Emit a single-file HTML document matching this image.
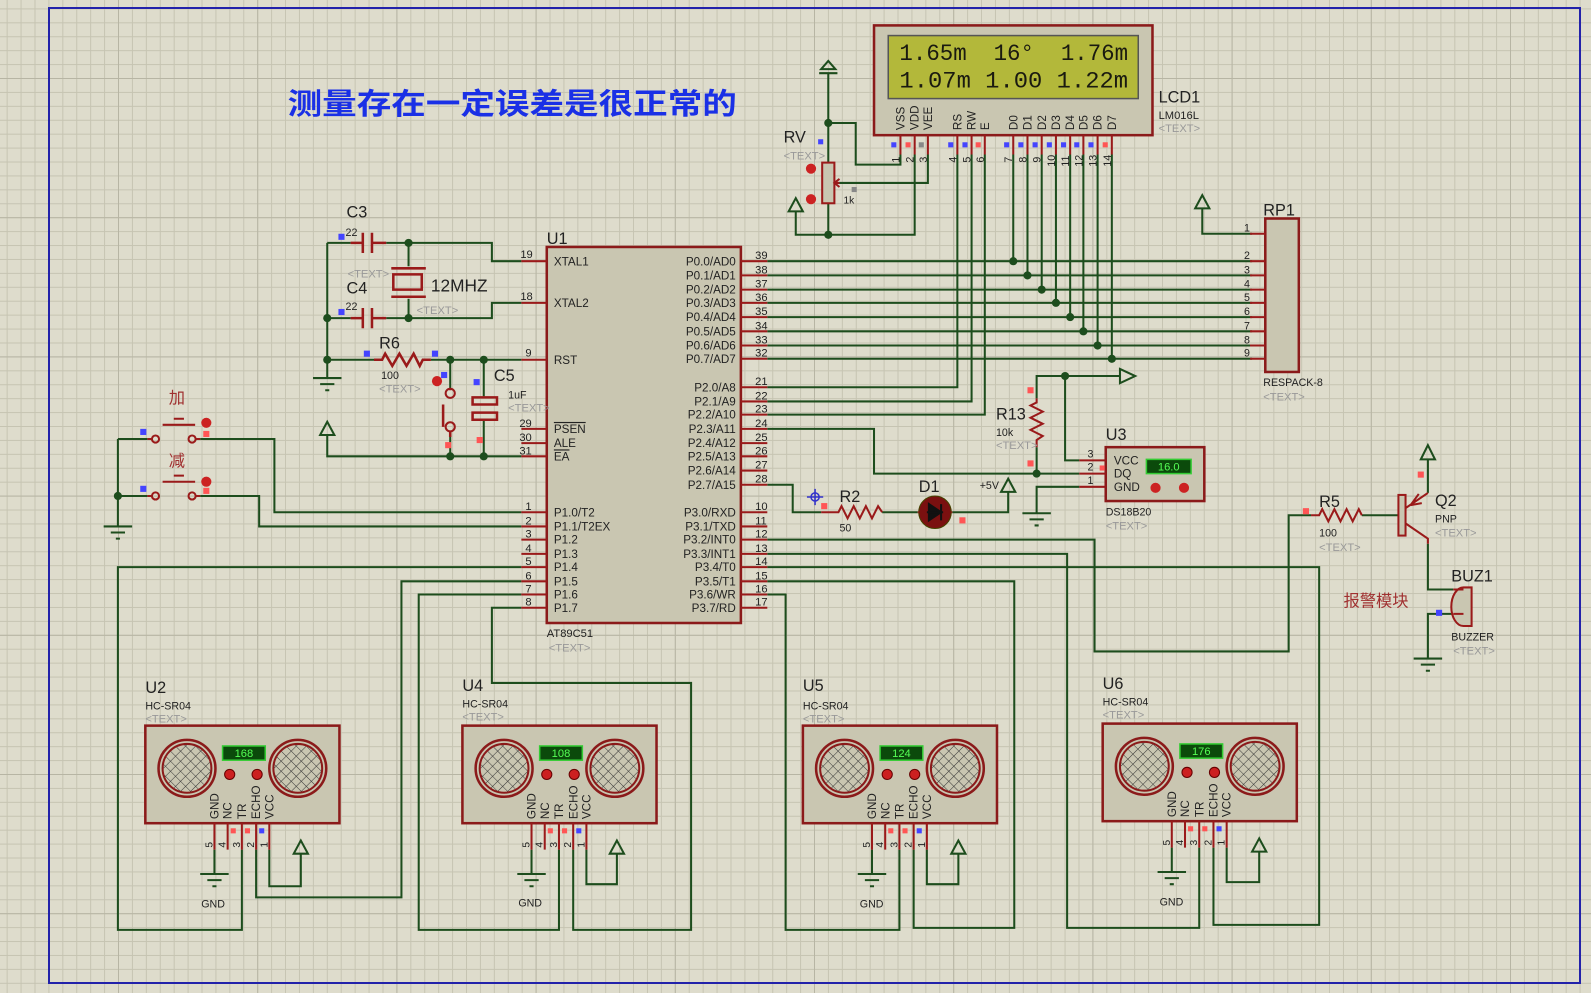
<!DOCTYPE html>
<html><head><meta charset="utf-8"><style>
html,body{margin:0;padding:0;background:#dedccc;}
svg{display:block;}
text{font-family:"Liberation Sans","Noto Sans CJK SC",sans-serif;}
text.mono{font-family:"Liberation Mono","DejaVu Sans Mono",monospace;}
</style></head><body>
<svg width="1591" height="993" viewBox="0 0 1591 993" xmlns="http://www.w3.org/2000/svg">
<defs>
<pattern id="gmin" patternUnits="userSpaceOnUse" x="6.64" y="8.4" width="13.92" height="13.92">
<path d="M0 0H13.92M0 0V13.92" stroke="#c6c4b2" stroke-width="2" fill="none"/></pattern>
<pattern id="gmaj" patternUnits="userSpaceOnUse" x="118" y="78" width="139.2" height="139.2">
<path d="M0 0H139.2M0 0V139.2" stroke="#b7b5a4" stroke-width="2" fill="none"/></pattern>
<pattern id="hatch" patternUnits="userSpaceOnUse" width="7" height="7" patternTransform="rotate(45)">
<path d="M0 0H7M0 0V7" stroke="#333" stroke-width="1"/></pattern>
<g id="sensor">
<rect x="0" y="0" width="191" height="96" fill="#c9c6b1" stroke="#8b1a1a" stroke-width="2.5"/>
<circle cx="41" cy="42" r="28" fill="#c9c6b1" stroke="#8b1a1a" stroke-width="2.5"/>
<circle cx="41" cy="42" r="24" fill="url(#hatch)" stroke="#8b1a1a" stroke-width="2"/>
<circle cx="150" cy="42" r="28" fill="#c9c6b1" stroke="#8b1a1a" stroke-width="2.5"/>
<circle cx="150" cy="42" r="24" fill="url(#hatch)" stroke="#8b1a1a" stroke-width="2"/>
<rect x="76" y="20" width="42" height="14" fill="#0b4a0b" stroke="#33cc33" stroke-width="1.5"/>
<circle cx="83" cy="48" r="5" fill="#cc2020" stroke="#600" stroke-width="1"/>
<circle cx="110" cy="48" r="5" fill="#cc2020" stroke="#600" stroke-width="1"/>
<g font-size="11.5" fill="#222">
<text transform="translate(72,92) rotate(-90)">GND</text>
<text transform="translate(85,92) rotate(-90)">NC</text>
<text transform="translate(99,92) rotate(-90)">TR</text>
<text transform="translate(113,92) rotate(-90)">ECHO</text>
<text transform="translate(126,92) rotate(-90)">VCC</text>
</g>
<g stroke="#9a1a1a" stroke-width="2">
<path d="M68 96V122M81 96V122M95 96V122M109 96V122M122 96V122"/></g>
<g font-size="10" fill="#222">
<text transform="translate(66,120) rotate(-90)">5</text>
<text transform="translate(79,120) rotate(-90)">4</text>
<text transform="translate(93,120) rotate(-90)">3</text>
<text transform="translate(107,120) rotate(-90)">2</text>
<text transform="translate(120,120) rotate(-90)">1</text>
</g>
<rect x="84" y="101" width="5" height="5" fill="#f55"/>
<rect x="98" y="101" width="5" height="5" fill="#f55"/>
<rect x="112" y="101" width="5" height="5" fill="#44f"/>
</g>
</defs>
<rect width="1591" height="993" fill="#dedccc"/>
<rect width="1591" height="993" fill="url(#gmin)"/>
<rect width="1591" height="993" fill="url(#gmaj)"/>
<rect x="49" y="8" width="1531" height="975" fill="none" stroke="#2222aa" stroke-width="2"/>

<g transform="scale(1.0163)">
<text x="283" y="112" font-size="29" font-weight="bold" fill="#1a30e6" textLength="442" lengthAdjust="spacingAndGlyphs">测量存在一定误差是很正常的</text>

<!-- LCD -->
<rect x="860" y="25" width="274" height="108" fill="#c9c6b1" stroke="#8b1a1a" stroke-width="2.5"/>
<rect x="874" y="35" width="246" height="62" fill="#b3b83a" stroke="#555" stroke-width="1.5"/>
<g font-size="23" fill="#1a1a10">
<text class="mono" x="885" y="59" textLength="225" lengthAdjust="spacingAndGlyphs" xml:space="preserve">1.65m  16°  1.76m</text>
<text class="mono" x="885" y="86" textLength="225" lengthAdjust="spacingAndGlyphs" xml:space="preserve">1.07m 1.00 1.22m</text>
</g>
<text x="1140" y="101" font-size="16" fill="#222">LCD1</text>
<text x="1140" y="117" font-size="11" fill="#222">LM016L</text>
<text x="1140" y="130" font-size="11" fill="#999">&lt;TEXT&gt;</text>
<g font-size="11.5" fill="#222">
<text transform="translate(890,128) rotate(-90)">VSS</text>
<text transform="translate(904,128) rotate(-90)">VDD</text>
<text transform="translate(917,128) rotate(-90)">VEE</text>
<text transform="translate(946,128) rotate(-90)">RS</text>
<text transform="translate(960,128) rotate(-90)">RW</text>
<text transform="translate(973,128) rotate(-90)">E</text>
<text transform="translate(1001,128) rotate(-90)">D0</text>
<text transform="translate(1015,128) rotate(-90)">D1</text>
<text transform="translate(1029,128) rotate(-90)">D2</text>
<text transform="translate(1043,128) rotate(-90)">D3</text>
<text transform="translate(1057,128) rotate(-90)">D4</text>
<text transform="translate(1070,128) rotate(-90)">D5</text>
<text transform="translate(1084,128) rotate(-90)">D6</text>
<text transform="translate(1098,128) rotate(-90)">D7</text>
</g>
<g stroke="#9a1a1a" stroke-width="2">
<path d="M886 133V152M900 133V152M913 133V152M942 133V152M956 133V152M969 133V152M997 133V152M1011 133V152M1025 133V152M1039 133V152M1053 133V152M1066 133V152M1080 133V152M1094 133V152"/>
</g>
<g font-size="10.5" fill="#222">
<text transform="translate(885,160) rotate(-90)">1</text>
<text transform="translate(899,160) rotate(-90)">2</text>
<text transform="translate(912,160) rotate(-90)">3</text>
<text transform="translate(941,160) rotate(-90)">4</text>
<text transform="translate(955,160) rotate(-90)">5</text>
<text transform="translate(968,160) rotate(-90)">6</text>
<text transform="translate(996,160) rotate(-90)">7</text>
<text transform="translate(1010,160) rotate(-90)">8</text>
<text transform="translate(1024,160) rotate(-90)">9</text>
<text transform="translate(1038,164) rotate(-90)">10</text>
<text transform="translate(1052,164) rotate(-90)">11</text>
<text transform="translate(1065,164) rotate(-90)">12</text>
<text transform="translate(1079,164) rotate(-90)">13</text>
<text transform="translate(1093,164) rotate(-90)">14</text>
</g>
<g>
<rect x="877" y="140" width="5" height="5" fill="#44f"/><rect x="891" y="140" width="5" height="5" fill="#f55"/><rect x="904" y="140" width="5" height="5" fill="#888"/>
<rect x="933" y="140" width="5" height="5" fill="#44f"/><rect x="947" y="140" width="5" height="5" fill="#44f"/><rect x="960" y="140" width="5" height="5" fill="#f55"/>
<rect x="988" y="140" width="5" height="5" fill="#44f"/><rect x="1002" y="140" width="5" height="5" fill="#44f"/><rect x="1016" y="140" width="5" height="5" fill="#44f"/>
<rect x="1030" y="140" width="5" height="5" fill="#44f"/><rect x="1044" y="140" width="5" height="5" fill="#44f"/><rect x="1057" y="140" width="5" height="5" fill="#44f"/>
<rect x="1071" y="140" width="5" height="5" fill="#44f"/><rect x="1085" y="140" width="5" height="5" fill="#f55"/>
</g>

<!-- wires -->
<g fill="none" stroke="#1d4d1d" stroke-width="2">
<polyline points="886,152 886,162 842,162 842,121 815,121"/>
<polyline points="815,72 815,160"/>
<polyline points="815,200 815,231 900,231 900,152"/>
<polyline points="783,208 783,231 815,231"/>
<polyline points="913,152 913,180 826,180"/>
<polyline points="942,152 942,381 755,381"/>
<polyline points="956,152 956,395 755,395"/>
<polyline points="969,152 969,408 755,408"/>
<path d="M997 152V257M1011 152V271M1025 152V285M1039 152V298M1053 152V312M1066 152V326M1080 152V340M1094 152V353"/>
<path d="M755 257H1232M755 271H1232M755 285H1232M755 298H1232M755 312H1232M755 326H1232M755 340H1232M755 353H1232"/>
<polyline points="1183,205 1183,230 1232,230"/>
<polyline points="322,239 345,239"/><polyline points="380,239 484,239 484,257 513,257"/>
<polyline points="402,239 402,262"/><polyline points="402,294 402,313"/>
<polyline points="322,313 345,313"/><polyline points="380,313 484,313 484,298 513,298"/>
<polyline points="322,239 322,372"/>
<polyline points="322,354 368,354"/><polyline points="424,354 513,354"/>
<polyline points="443,354 443,382"/><polyline points="443,424 443,449"/>
<polyline points="476,354 476,390"/><polyline points="476,413 476,449"/>
<polyline points="322,428 322,449 513,449"/>
<polyline points="116,432 145,432"/><polyline points="197,432 270,432 270,504 513,504"/>
<polyline points="116,488 145,488"/><polyline points="197,488 255,488 255,518 513,518"/>
<polyline points="116,432 116,518"/>
<polyline points="513,558 116,558 116,915 238,915 238,836"/>
<polyline points="211,836 211,860"/>
<polyline points="265,836 265,872 296,872 296,840"/>
<polyline points="252,836 252,883 395,883 395,572 513,572"/>
<polyline points="550,836 550,915 412,915 412,585 513,585"/>
<polyline points="564,836 564,915 680,915 680,672 484,672 484,598 513,598"/>
<polyline points="523,836 523,860"/>
<polyline points="577,836 577,870 607,870 607,840"/>
<polyline points="858,836 858,860"/>
<polyline points="912,836 912,870 943,870 943,840"/>
<polyline points="899,836 899,913 998,913 998,572 755,572"/>
<polyline points="885,836 885,915 773,915 773,585 755,585"/>
<polyline points="1153,834 1153,858"/>
<polyline points="1207,834 1207,868 1239,868 1239,838"/>
<polyline points="1194,834 1194,910 1298,910 1298,558 755,558"/>
<polyline points="1180,834 1180,913 1050,913 1050,545 755,545"/>
<polyline points="755,531 1077,531 1077,641 1268,641 1268,507 1290,507"/>
<polyline points="755,477 780,477 780,504 808,504"/>
<polyline points="868,504 903,504"/>
<polyline points="937,504 992,504 992,484"/>
<polyline points="755,422 860,422 860,466 1062,466"/>
<polyline points="1062,453 1048,453 1048,370 1102,370"/>
<polyline points="1048,370 1020,370 1020,392"/>
<polyline points="1020,440 1020,466"/>
<polyline points="1062,479 1020,479 1020,505"/>
<polyline points="1340,507 1376,507"/>
<polyline points="1405,452 1405,485"/>
<polyline points="1405,535 1405,580 1430,580"/>
<polyline points="1430,604 1405,604 1405,648"/>
<polygon points="815,60 808,68 822,68" />
<polygon points="783,195 776,208 790,208"/>
<polygon points="1183,192 1176,205 1190,205"/>
<polygon points="322,415 315,428 329,428"/>
<polygon points="296,827 289,840 303,840"/>
<polygon points="607,827 600,840 614,840"/>
<polygon points="943,827 936,840 950,840"/>
<polygon points="1239,825 1232,838 1246,838"/>
<polygon points="992,471 985,484 999,484"/>
<polygon points="1405,438 1398,452 1412,452"/>
<polygon points="1102,363 1117,370 1102,377"/>
<path d="M806 72H824"/>
<path d="M308 372H336M315 378H329M320 384H324"/>
<path d="M102 518H130M109 524H123M114 530H118"/>
<path d="M197 860H225M204 866H218M209 872H213"/>
<path d="M509 860H537M516 866H530M521 872H525"/>
<path d="M844 860H872M851 866H865M856 872H860"/>
<path d="M1139 858H1167M1146 864H1160M1151 870H1155"/>
<path d="M1006 505H1034M1013 511H1027M1018 517H1022"/>
<path d="M1391 648H1419M1398 654H1412M1403 660H1407"/>
</g>
<g fill="#1d4d1d">
<circle cx="815" cy="121" r="4"/><circle cx="815" cy="231" r="4"/>
<circle cx="997" cy="257" r="4"/><circle cx="1011" cy="271" r="4"/><circle cx="1025" cy="285" r="4"/><circle cx="1039" cy="298" r="4"/>
<circle cx="1053" cy="312" r="4"/><circle cx="1066" cy="326" r="4"/><circle cx="1080" cy="340" r="4"/><circle cx="1094" cy="353" r="4"/>
<circle cx="402" cy="239" r="4"/><circle cx="402" cy="313" r="4"/><circle cx="322" cy="313" r="4"/><circle cx="322" cy="354" r="4"/>
<circle cx="443" cy="354" r="4"/><circle cx="476" cy="354" r="4"/><circle cx="443" cy="449" r="4"/><circle cx="476" cy="449" r="4"/>
<circle cx="116" cy="488" r="4"/><circle cx="1048" cy="370" r="4"/><circle cx="1020" cy="466" r="4"/>
</g>

<rect x="809" y="160" width="12" height="40" fill="#c9c6b1" stroke="#9a1a1a" stroke-width="2"/>
<path d="M826 180H822M826 176L821 180L826 184" stroke="#9a1a1a" stroke-width="2" fill="none"/>
<circle cx="798" cy="166" r="5" fill="#c22"/><circle cx="798" cy="196" r="5" fill="#c22"/>
<rect x="805" y="137" width="5" height="5" fill="#44f"/><rect x="838" y="184" width="5" height="5" fill="#888"/>
<text x="771" y="140" font-size="16" fill="#222">RV</text>
<text x="771" y="157" font-size="11" fill="#999">&lt;TEXT&gt;</text>
<text x="830" y="200" font-size="10" fill="#222">1k</text>

<rect x="538" y="243" width="191" height="370" fill="#c9c6b1" stroke="#8b1a1a" stroke-width="2.5"/>
<g stroke="#9a1a1a" stroke-width="2">
<path d="M513 257H538M513 298H538M513 354H538M513 422H538M513 436H538M513 449H538"/>
<path d="M513 504H538M513 518H538M513 531H538M513 545H538M513 558H538M513 572H538M513 585H538M513 598H538"/>
<path d="M729 257H755M729 271H755M729 285H755M729 298H755M729 312H755M729 326H755M729 340H755M729 353H755"/>
<path d="M729 381H755M729 395H755M729 408H755M729 422H755M729 436H755M729 449H755M729 463H755M729 477H755"/>
<path d="M729 504H755M729 518H755M729 531H755M729 545H755M729 558H755M729 572H755M729 585H755M729 598H755"/>
</g>
<text x="538" y="240" font-size="16" fill="#222">U1</text>
<text x="538" y="627" font-size="11" fill="#222">AT89C51</text>
<text x="540" y="641" font-size="11" fill="#999">&lt;TEXT&gt;</text>
<g font-size="11.5" fill="#222">
<text x="545" y="261">XTAL1</text><text x="545" y="302">XTAL2</text><text x="545" y="358">RST</text>
<text x="545" y="426" text-decoration="overline">PSEN</text><text x="545" y="440">ALE</text><text x="545" y="453" text-decoration="overline">EA</text>
<text x="545" y="508">P1.0/T2</text><text x="545" y="522">P1.1/T2EX</text><text x="545" y="535">P1.2</text><text x="545" y="549">P1.3</text>
<text x="545" y="562">P1.4</text><text x="545" y="576">P1.5</text><text x="545" y="589">P1.6</text><text x="545" y="602">P1.7</text>
</g>
<g font-size="11.5" fill="#222" text-anchor="end">
<text x="724" y="261">P0.0/AD0</text><text x="724" y="275">P0.1/AD1</text><text x="724" y="289">P0.2/AD2</text><text x="724" y="302">P0.3/AD3</text>
<text x="724" y="316">P0.4/AD4</text><text x="724" y="330">P0.5/AD5</text><text x="724" y="344">P0.6/AD6</text><text x="724" y="357">P0.7/AD7</text>
<text x="724" y="385">P2.0/A8</text><text x="724" y="399">P2.1/A9</text><text x="724" y="412">P2.2/A10</text><text x="724" y="426">P2.3/A11</text>
<text x="724" y="440">P2.4/A12</text><text x="724" y="453">P2.5/A13</text><text x="724" y="467">P2.6/A14</text><text x="724" y="481">P2.7/A15</text>
<text x="724" y="508">P3.0/RXD</text><text x="724" y="522">P3.1/TXD</text><text x="724" y="535">P3.2/INT0</text><text x="724" y="549">P3.3/INT1</text>
<text x="724" y="562">P3.4/T0</text><text x="724" y="576">P3.5/T1</text><text x="724" y="589">P3.6/WR</text><text x="724" y="602">P3.7/RD</text>
</g>
<g font-size="11" fill="#222">
<text x="512" y="254">19</text><text x="512" y="295">18</text><text x="517" y="351">9</text>
<text x="511" y="420">29</text><text x="511" y="434">30</text><text x="511" y="447">31</text>
<text x="517" y="502">1</text><text x="517" y="516">2</text><text x="517" y="529">3</text><text x="517" y="543">4</text>
<text x="517" y="556">5</text><text x="517" y="570">6</text><text x="517" y="583">7</text><text x="517" y="596">8</text>
<text x="743" y="255">39</text><text x="743" y="269">38</text><text x="743" y="283">37</text><text x="743" y="296">36</text>
<text x="743" y="310">35</text><text x="743" y="324">34</text><text x="743" y="338">33</text><text x="743" y="351">32</text>
<text x="743" y="379">21</text><text x="743" y="393">22</text><text x="743" y="406">23</text><text x="743" y="420">24</text>
<text x="743" y="434">25</text><text x="743" y="447">26</text><text x="743" y="461">27</text><text x="743" y="475">28</text>
<text x="743" y="502">10</text><text x="743" y="516">11</text><text x="743" y="529">12</text><text x="743" y="543">13</text>
<text x="743" y="556">14</text><text x="743" y="570">15</text><text x="743" y="583">16</text><text x="743" y="596">17</text>
</g>

<g stroke="#9a1a1a" stroke-width="2.5" fill="none">
<path d="M345 239H357M357 229V249M366 229V249M366 239H380"/>
<path d="M345 313H357M357 303V323M366 303V323M366 313H380"/>
<path d="M385 264H419M387 270H415V285H387ZM385 292H419"/>
<polyline points="368,354 376,354 379,348 386,360 393,348 400,360 407,348 413,360 416,354 424,354"/>
<path d="M443 382V384M436 398V420M443 424V430"/>
<path d="M465 391H489V398H465ZM465 406H489V413H465Z"/>
</g>
<circle cx="443" cy="387" r="4.5" fill="none" stroke="#9a1a1a" stroke-width="2"/>
<circle cx="443" cy="420" r="4.5" fill="none" stroke="#9a1a1a" stroke-width="2"/>
<circle cx="430" cy="375" r="5" fill="#c22"/>
<rect x="333" y="230" width="6" height="6" fill="#44f"/><rect x="333" y="304" width="6" height="6" fill="#44f"/>
<rect x="358" y="345" width="6" height="6" fill="#44f"/><rect x="425" y="345" width="6" height="6" fill="#44f"/>
<rect x="434" y="366" width="6" height="6" fill="#44f"/><rect x="466" y="373" width="6" height="6" fill="#44f"/>
<rect x="438" y="435" width="6" height="6" fill="#f55"/><rect x="469" y="430" width="6" height="6" fill="#f55"/>
<text x="341" y="214" font-size="16" fill="#222">C3</text>
<text x="340" y="232" font-size="10.5" fill="#222">22</text>
<text x="342" y="273" font-size="11" fill="#999">&lt;TEXT&gt;</text>
<text x="341" y="289" font-size="16" fill="#222">C4</text>
<text x="340" y="305" font-size="10.5" fill="#222">22</text>
<text x="424" y="287" font-size="17" fill="#222">12MHZ</text>
<text x="410" y="309" font-size="11" fill="#999">&lt;TEXT&gt;</text>
<text x="373" y="343" font-size="16" fill="#222">R6</text>
<text x="375" y="373" font-size="10.5" fill="#222">100</text>
<text x="373" y="386" font-size="11" fill="#999">&lt;TEXT&gt;</text>
<text x="486" y="375" font-size="16" fill="#222">C5</text>
<text x="500" y="392" font-size="10.5" fill="#222">1uF</text>
<text x="500" y="405" font-size="11" fill="#999">&lt;TEXT&gt;</text>

<g stroke="#9a1a1a" stroke-width="2" fill="none">
<path d="M145 432H150M192 432H197M160 418H192M171 412H181M145 488H150M192 488H197M160 474H192M171 468H181"/>
<circle cx="153" cy="432" r="3.5"/><circle cx="189" cy="432" r="3.5"/>
<circle cx="153" cy="488" r="3.5"/><circle cx="189" cy="488" r="3.5"/>
</g>
<circle cx="203" cy="416" r="5" fill="#c22"/><circle cx="203" cy="474" r="5" fill="#c22"/>
<rect x="138" y="422" width="6" height="6" fill="#44f"/><rect x="138" y="478" width="6" height="6" fill="#44f"/>
<rect x="200" y="424" width="6" height="6" fill="#f55"/><rect x="200" y="480" width="6" height="6" fill="#f55"/>
<text x="166" y="397" font-size="16" fill="#a03030">加</text>
<text x="166" y="459" font-size="16" fill="#a03030">减</text>

<rect x="1245" y="215" width="33" height="151" fill="#c9c6b1" stroke="#8b1a1a" stroke-width="2.5"/>
<g stroke="#9a1a1a" stroke-width="2"><path d="M1230 230H1245M1230 257H1245M1230 271H1245M1230 285H1245M1230 298H1245M1230 312H1245M1230 326H1245M1230 340H1245M1230 353H1245"/></g>
<g font-size="10.5" fill="#222">
<text x="1224" y="228">1</text><text x="1224" y="255">2</text><text x="1224" y="269">3</text><text x="1224" y="283">4</text><text x="1224" y="296">5</text>
<text x="1224" y="310">6</text><text x="1224" y="324">7</text><text x="1224" y="338">8</text><text x="1224" y="351">9</text></g>
<text x="1243" y="212" font-size="16" fill="#222">RP1</text>
<text x="1243" y="380" font-size="10.5" fill="#222">RESPACK-8</text>
<text x="1243" y="394" font-size="11" fill="#999">&lt;TEXT&gt;</text>

<polyline points="808,504 825,504 828,498 834,510 840,498 846,510 852,498 858,510 864,498 868,504" fill="none" stroke="#9a1a1a" stroke-width="2"/>
<circle cx="920" cy="504" r="16" fill="#7a1010" stroke="#440" stroke-width="1"/>
<path d="M912 504H928M926 496V512M926 504L914 496V512Z" stroke="#111" stroke-width="2" fill="#111"/>
<path d="M903 504H904M936 504H937" stroke="#9a1a1a" stroke-width="2"/>
<rect x="808" y="495" width="6" height="6" fill="#f55"/><rect x="944" y="509" width="6" height="6" fill="#f55"/>
<g stroke="#33c" stroke-width="1.5" fill="none"><circle cx="802" cy="489" r="4"/><path d="M794 489H810M802 481V497"/></g>
<text x="826" y="494" font-size="16" fill="#222">R2</text>
<text x="826" y="523" font-size="10.5" fill="#222">50</text>
<text x="904" y="484" font-size="16" fill="#222">D1</text>
<text x="964" y="481" font-size="10.5" fill="#222">+5V</text>

<polyline points="1020,392 1020,396 1014,399 1026,405 1014,411 1026,417 1014,423 1026,429 1020,433 1020,440" fill="none" stroke="#9a1a1a" stroke-width="2"/>
<rect x="1011" y="381" width="6" height="6" fill="#f55"/><rect x="1011" y="453" width="6" height="6" fill="#f55"/>
<text x="980" y="413" font-size="16" fill="#222">R13</text>
<text x="980" y="429" font-size="10.5" fill="#222">10k</text>
<text x="980" y="442" font-size="11" fill="#999">&lt;TEXT&gt;</text>
<rect x="1088" y="440" width="97" height="53" fill="#c9c6b1" stroke="#8b1a1a" stroke-width="2.5"/>
<g stroke="#9a1a1a" stroke-width="2"><path d="M1062 453H1088M1062 466H1088M1062 479H1088"/></g>
<g font-size="10.5" fill="#222"><text x="1070" y="450">3</text><text x="1070" y="463">2</text><text x="1070" y="476">1</text></g>
<rect x="1082" y="458" width="5" height="5" fill="#f55"/>
<g font-size="11.5" fill="#222"><text x="1096" y="457">VCC</text><text x="1096" y="470">DQ</text><text x="1096" y="483">GND</text></g>
<rect x="1128" y="452" width="44" height="14" fill="#0b4a0b" stroke="#33cc33" stroke-width="1.5"/>
<text x="1150" y="463" font-size="11" fill="#5f5" text-anchor="middle">16.0</text>
<circle cx="1137" cy="480" r="5" fill="#c22"/><circle cx="1165" cy="480" r="5" fill="#c22"/>
<text x="1088" y="433" font-size="16" fill="#222">U3</text>
<text x="1088" y="507" font-size="10.5" fill="#222">DS18B20</text>
<text x="1088" y="521" font-size="11" fill="#999">&lt;TEXT&gt;</text>

<polyline points="1290,507 1298,507 1301,501 1307,513 1313,501 1319,513 1325,501 1331,513 1337,501 1340,507" fill="none" stroke="#9a1a1a" stroke-width="2"/>
<rect x="1282" y="500" width="6" height="6" fill="#f55"/>
<rect x="1376" y="487" width="7" height="40" fill="#c9c6b1" stroke="#9a1a1a" stroke-width="2"/>
<path d="M1383 500L1405 485M1383 515L1405 530V535M1388 497L1396 486M1388 497L1399 495" stroke="#9a1a1a" stroke-width="2" fill="none"/>
<rect x="1395" y="464" width="6" height="6" fill="#f55"/>
<path d="M1440 578H1448V616H1440A12 19 0 0 1 1440 578Z" fill="#c9c6b1" stroke="#9a1a1a" stroke-width="2"/>
<path d="M1430 580H1440M1430 604H1440" stroke="#9a1a1a" stroke-width="2"/>
<rect x="1413" y="600" width="6" height="6" fill="#44f"/>
<text x="1298" y="499" font-size="16" fill="#222">R5</text>
<text x="1298" y="528" font-size="10.5" fill="#222">100</text>
<text x="1298" y="542" font-size="11" fill="#999">&lt;TEXT&gt;</text>
<text x="1412" y="498" font-size="16" fill="#222">Q2</text>
<text x="1412" y="514" font-size="10.5" fill="#222">PNP</text>
<text x="1412" y="528" font-size="11" fill="#999">&lt;TEXT&gt;</text>
<text x="1428" y="572" font-size="16" fill="#222">BUZ1</text>
<text x="1428" y="630" font-size="10.5" fill="#222">BUZZER</text>
<text x="1430" y="644" font-size="11" fill="#999">&lt;TEXT&gt;</text>
<text x="1322" y="597" font-size="16" fill="#a03030">报警模块</text>

<use href="#sensor" x="143" y="714"/>
<use href="#sensor" x="455" y="714"/>
<use href="#sensor" x="790" y="714"/>
<use href="#sensor" x="1085" y="712"/>
<g font-size="11" fill="#5f5" text-anchor="middle">
<text x="240" y="745">168</text><text x="552" y="745">108</text><text x="887" y="745">124</text><text x="1182" y="743">176</text>
</g>
<g fill="#222">
<text x="143" y="682" font-size="16">U2</text><text x="143" y="698" font-size="10.5">HC-SR04</text>
<text x="455" y="680" font-size="16">U4</text><text x="455" y="696" font-size="10.5">HC-SR04</text>
<text x="790" y="680" font-size="16">U5</text><text x="790" y="698" font-size="10.5">HC-SR04</text>
<text x="1085" y="678" font-size="16">U6</text><text x="1085" y="694" font-size="10.5">HC-SR04</text>
<text x="198" y="893" font-size="10.5">GND</text><text x="510" y="892" font-size="10.5">GND</text>
<text x="846" y="893" font-size="10.5">GND</text><text x="1141" y="891" font-size="10.5">GND</text>
</g>
<g fill="#999" font-size="11">
<text x="143" y="711">&lt;TEXT&gt;</text><text x="455" y="709">&lt;TEXT&gt;</text><text x="790" y="711">&lt;TEXT&gt;</text><text x="1085" y="707">&lt;TEXT&gt;</text>
</g>
</g>
</svg>
</body></html>
